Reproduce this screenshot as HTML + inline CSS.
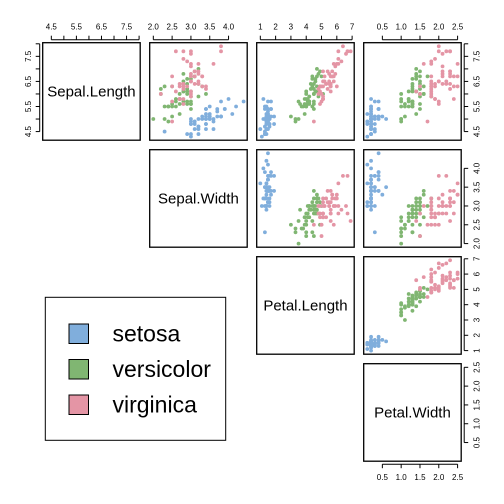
<!DOCTYPE html>
<html><head><meta charset="utf-8">
<style>
html,body{margin:0;padding:0;background:#fff;}
svg{display:block;font-family:"Liberation Sans",Arial,sans-serif;}
</style></head>
<body>
<svg id="chart" width="504" height="504" viewBox="0 0 504 504" xmlns="http://www.w3.org/2000/svg">
<rect width="504" height="504" fill="#fff"/>
</svg>
<script>
const varNames = ["Sepal.Length","Sepal.Width","Petal.Length","Petal.Width"];
const species = ["setosa","versicolor","virginica"];
const speciesColors = ["#80AEDC","#80B672","#E495A5"];
const sepalLength = [5.1,4.9,4.7,4.6,5.0,5.4,4.6,5.0,4.4,4.9,5.4,4.8,4.8,4.3,5.8,5.7,5.4,5.1,5.7,5.1,5.4,5.1,4.6,5.1,4.8,5.0,5.0,5.2,5.2,4.7,4.8,5.4,5.2,5.5,4.9,5.0,5.5,4.9,4.4,5.1,5.0,4.5,4.4,5.0,5.1,4.8,5.1,4.6,5.3,5.0,
7.0,6.4,6.9,5.5,6.5,5.7,6.3,4.9,6.6,5.2,5.0,5.9,6.0,6.1,5.6,6.7,5.6,5.8,6.2,5.6,5.9,6.1,6.3,6.1,6.4,6.6,6.8,6.7,6.0,5.7,5.5,5.5,5.8,6.0,5.4,6.0,6.7,6.3,5.6,5.5,5.5,6.1,5.8,5.0,5.6,5.7,5.7,6.2,5.1,5.7,
6.3,5.8,7.1,6.3,6.5,7.6,4.9,7.3,6.7,7.2,6.5,6.4,6.8,5.7,5.8,6.4,6.5,7.7,7.7,6.0,6.9,5.6,7.7,6.3,6.7,7.2,6.2,6.1,6.4,7.2,7.4,7.9,6.4,6.3,6.1,7.7,6.3,6.4,6.0,6.9,6.7,6.9,5.8,6.8,6.7,6.7,6.3,6.5,6.2,5.9];
const sepalWidth = [3.5,3.0,3.2,3.1,3.6,3.9,3.4,3.4,2.9,3.1,3.7,3.4,3.0,3.0,4.0,4.4,3.9,3.5,3.8,3.8,3.4,3.7,3.6,3.3,3.4,3.0,3.4,3.5,3.4,3.2,3.1,3.4,4.1,4.2,3.1,3.2,3.5,3.6,3.0,3.4,3.5,2.3,3.2,3.5,3.8,3.0,3.8,3.2,3.7,3.3,
3.2,3.2,3.1,2.3,2.8,2.8,3.3,2.4,2.9,2.7,2.0,3.0,2.2,2.9,2.9,3.1,3.0,2.7,2.2,2.5,3.2,2.8,2.5,2.8,2.9,3.0,2.8,3.0,2.9,2.6,2.4,2.4,2.7,2.7,3.0,3.4,3.1,2.3,3.0,2.5,2.6,3.0,2.6,2.3,2.7,3.0,2.9,2.9,2.5,2.8,
3.3,2.7,3.0,2.9,3.0,3.0,2.5,2.9,2.5,3.6,3.2,2.7,3.0,2.5,2.8,3.2,3.0,3.8,2.6,2.2,3.2,2.8,2.8,2.7,3.3,3.2,2.8,3.0,2.8,3.0,2.8,3.8,2.8,2.8,2.6,3.0,3.4,3.1,3.0,3.1,3.1,3.1,2.7,3.2,3.3,3.0,2.5,3.0,3.4,3.0];
const petalLength = [1.4,1.4,1.3,1.5,1.4,1.7,1.4,1.5,1.4,1.5,1.5,1.6,1.4,1.1,1.2,1.5,1.3,1.4,1.7,1.5,1.7,1.5,1.0,1.7,1.9,1.6,1.6,1.5,1.4,1.6,1.6,1.5,1.5,1.4,1.5,1.2,1.3,1.4,1.3,1.5,1.3,1.3,1.3,1.6,1.9,1.4,1.6,1.4,1.5,1.4,
4.7,4.5,4.9,4.0,4.6,4.5,4.7,3.3,4.6,3.9,3.5,4.2,4.0,4.7,3.6,4.4,4.5,4.1,4.5,3.9,4.8,4.0,4.9,4.7,4.3,4.4,4.8,5.0,4.5,3.5,3.8,3.7,3.9,5.1,4.5,4.5,4.7,4.4,4.1,4.0,4.4,4.6,4.0,3.3,4.2,4.2,4.2,4.3,3.0,4.1,
6.0,5.1,5.9,5.6,5.8,6.6,4.5,6.3,5.8,6.1,5.1,5.3,5.5,5.0,5.1,5.3,5.5,6.7,6.9,5.0,5.7,4.9,6.7,4.9,5.7,6.0,4.8,4.9,5.6,5.8,6.1,6.4,5.6,5.1,5.6,6.1,5.6,5.5,4.8,5.4,5.6,5.1,5.1,5.9,5.7,5.2,5.0,5.2,5.4,5.1];
const petalWidth = [0.2,0.2,0.2,0.2,0.2,0.4,0.3,0.2,0.2,0.1,0.2,0.2,0.1,0.1,0.2,0.4,0.4,0.3,0.3,0.3,0.2,0.4,0.2,0.5,0.2,0.2,0.4,0.2,0.2,0.2,0.2,0.4,0.1,0.2,0.2,0.2,0.2,0.1,0.2,0.2,0.3,0.3,0.2,0.6,0.4,0.3,0.2,0.2,0.2,0.2,
1.4,1.5,1.5,1.3,1.5,1.3,1.6,1.0,1.3,1.4,1.0,1.5,1.0,1.4,1.3,1.4,1.5,1.0,1.5,1.1,1.8,1.3,1.5,1.2,1.3,1.4,1.4,1.7,1.5,1.0,1.1,1.0,1.2,1.6,1.5,1.6,1.5,1.3,1.3,1.3,1.2,1.4,1.2,1.0,1.3,1.2,1.3,1.3,1.1,1.3,
2.5,1.9,2.1,1.8,2.2,2.1,1.7,1.8,1.8,2.5,2.0,1.9,2.1,2.0,2.4,2.3,1.8,2.2,2.3,1.5,2.3,2.0,2.0,1.8,2.1,1.8,1.8,1.8,2.1,1.6,1.9,2.0,2.2,1.5,1.4,2.3,2.4,1.8,1.8,2.1,2.4,2.3,1.9,2.3,2.5,2.3,1.9,2.0,2.3,1.8];
const speciesIndex = [].concat(Array(50).fill(0),Array(50).fill(1),Array(50).fill(2));
const ticksSL = [4.5,5.0,5.5,6.0,6.5,7.0,7.5,8.0];
const tickLabelsSL = ["4.5","","5.5","","6.5","","7.5",""];
const ticksSW = [2.0,2.5,3.0,3.5,4.0];
const tickLabelsSW = ["2.0","2.5","3.0","3.5","4.0"];
const ticksPL = [1,2,3,4,5,6,7];
const tickLabelsPL = ["1","2","3","4","5","6","7"];
const ticksPW = [0.5,1.0,1.5,2.0,2.5];
const tickLabelsPW = ["0.5","1.0","1.5","2.0","2.5"];

const cols = [sepalLength,sepalWidth,petalLength,petalWidth];
const allTicks = [ticksSL,ticksSW,ticksPL,ticksPW];
const allLabels = [tickLabelsSL,tickLabelsSW,tickLabelsPL,tickLabelsPW];
const svg = document.getElementById('chart');
const NS = "http://www.w3.org/2000/svg";
const P0 = 42.7, STEP = 107, SIZE = 97.5;
function mk(tag, attrs, parent){const e=document.createElementNS(NS,tag);for(const k in attrs)e.setAttribute(k,attrs[k]);(parent||svg).appendChild(e);return e;}
const ranges = cols.map(c=>{const lo=Math.min(...c),hi=Math.max(...c),d=(hi-lo)*0.04;return [lo-d,hi+d];});
function sx(v,j){const r=ranges[j];return P0+j*STEP+(v-r[0])/(r[1]-r[0])*SIZE;}
function sy(v,i){const r=ranges[i];return P0+i*STEP+SIZE-(v-r[0])/(r[1]-r[0])*SIZE;}

for(let i=0;i<4;i++){
  for(let j=i;j<4;j++){
    const x0=P0+j*STEP,y0=P0+i*STEP;
    const g=mk('g',{});
    
    
    if(i===j){
      const t=mk('text',{x:x0+SIZE/2,y:y0+SIZE/2+5,'text-anchor':'middle','font-size':'15',fill:'#000'},g);
      t.textContent=varNames[i];
      
      
    } else {
      for(let k=0;k<150;k++){
        const c=mk('circle',{cx:sx(cols[j][k],j).toFixed(2),cy:sy(cols[i][k],i).toFixed(2),r:1.9,fill:speciesColors[speciesIndex[k]]},g);
        
        
      }
    }
    const b=mk('rect',{x:x0,y:y0,width:SIZE,height:SIZE,fill:'none',stroke:'#000','stroke-width':1.3},g);
    
    
  }
}
function axis(kind,idx,pos){
  const g=mk('g',{stroke:'#000','stroke-width':1});
  
  
  const t=allTicks[idx],l=allLabels[idx];
  const hor=(kind==='top'||kind==='bottom');
  const vals=t.map(v=>hor?sx(v,idx):sy(v,idx));
  if(hor){
    const dir=kind==='top'?-1:1;
    mk('line',{x1:vals[0],x2:vals[vals.length-1],y1:pos,y2:pos},g);
    vals.forEach((p,q)=>{mk('line',{x1:p,x2:p,y1:pos,y2:pos+dir*4},g);
      if(l[q]){const tx=mk('text',{x:p,y:kind==='top'?pos-10:pos+16,'text-anchor':'middle','font-size':'8',fill:'#000',stroke:'none'},g);tx.textContent=l[q];}});
  } else {
    const dir=kind==='left'?-1:1;
    mk('line',{y1:vals[0],y2:vals[vals.length-1],x1:pos,x2:pos},g);
    vals.forEach((p,q)=>{mk('line',{y1:p,y2:p,x1:pos,x2:pos+dir*4},g);
      if(l[q]){const lx=kind==='left'?pos-11:pos+13;const tx=mk('text',{x:lx,y:p,'text-anchor':'middle','font-size':'8',fill:'#000',stroke:'none',transform:`rotate(-90 ${lx} ${p})`,'dominant-baseline':'central'},g);tx.textContent=l[q];}});
  }
}
for(let j=0;j<4;j++) axis('top',j,P0-3);
axis('left',0,P0-3);
for(let i=0;i<4;i++) axis('right',i,P0+3*STEP+SIZE+3);
axis('bottom',3,P0+3*STEP+SIZE+3);

const lg=mk('g',{});


mk('rect',{x:45.3,y:297.3,width:180.4,height:143,fill:'#fff',stroke:'#000','stroke-width':1},lg);
const legendY=[324,359.5,395];
species.forEach((s,q)=>{
  const e=mk('g',{},lg);
  
  
  mk('rect',{x:69,y:legendY[q],width:19.5,height:19.5,fill:speciesColors[q],stroke:'#000','stroke-width':1},e);
  const t=mk('text',{x:112.5,y:legendY[q]+17.5,'font-size':'23',fill:'#000'},e);
  t.textContent=s;
});
</script>
</body></html>
